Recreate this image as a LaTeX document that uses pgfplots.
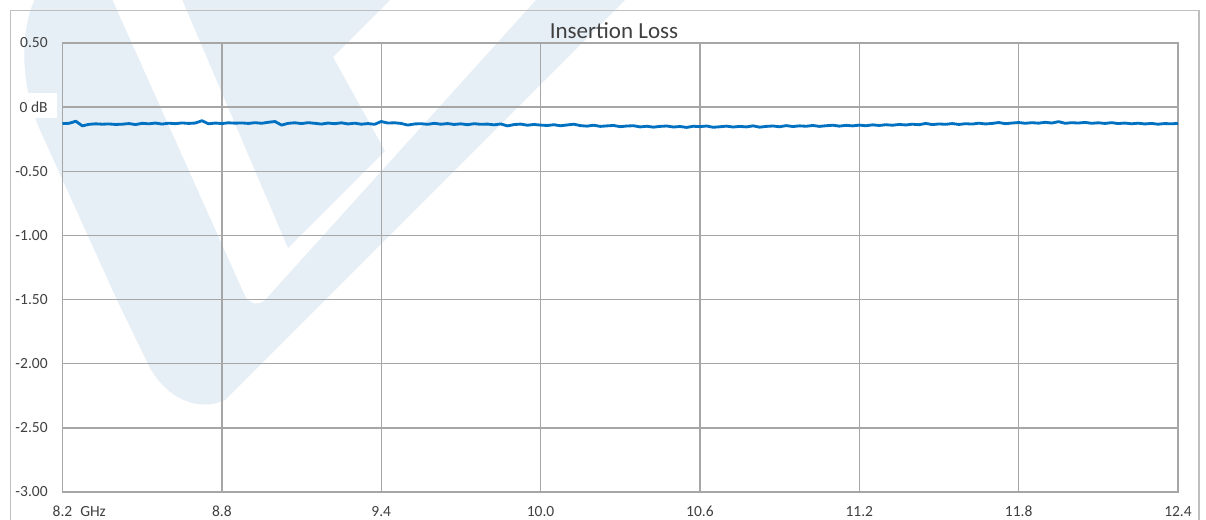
\documentclass[border=0pt]{standalone}
\usepackage{pgfplots}
\pgfplotsset{compat=1.18}
\usepackage{fontspec}
\setmainfont{Carlito}
\definecolor{wm}{RGB}{230,238,246}
\definecolor{gridc}{RGB}{166,166,166}
\definecolor{framec}{RGB}{191,191,191}
\definecolor{linec}{RGB}{0,112,192}
\definecolor{txt}{RGB}{64,64,64}

\pgfplotstableread{
x y
8.200 -0.128
8.225 -0.126
8.250 -0.110
8.275 -0.146
8.300 -0.134
8.325 -0.130
8.350 -0.133
8.375 -0.131
8.400 -0.135
8.425 -0.133
8.450 -0.128
8.475 -0.136
8.500 -0.126
8.525 -0.130
8.550 -0.124
8.575 -0.132
8.600 -0.125
8.625 -0.129
8.650 -0.123
8.675 -0.127
8.700 -0.124
8.725 -0.106
8.750 -0.130
8.775 -0.124
8.800 -0.128
8.825 -0.122
8.850 -0.125
8.875 -0.123
8.900 -0.127
8.925 -0.121
8.950 -0.126
8.975 -0.118
9.000 -0.112
9.025 -0.140
9.050 -0.126
9.075 -0.122
9.100 -0.128
9.125 -0.121
9.150 -0.126
9.175 -0.132
9.200 -0.124
9.225 -0.129
9.250 -0.122
9.275 -0.131
9.300 -0.125
9.325 -0.133
9.350 -0.128
9.375 -0.134
9.400 -0.112
9.425 -0.124
9.450 -0.122
9.475 -0.127
9.500 -0.140
9.525 -0.131
9.550 -0.129
9.575 -0.134
9.600 -0.126
9.625 -0.133
9.650 -0.128
9.675 -0.135
9.700 -0.130
9.725 -0.137
9.750 -0.129
9.775 -0.134
9.800 -0.132
9.825 -0.138
9.850 -0.131
9.875 -0.146
9.900 -0.136
9.925 -0.132
9.950 -0.141
9.975 -0.135
10.000 -0.140
10.025 -0.143
10.050 -0.137
10.075 -0.145
10.100 -0.139
10.125 -0.133
10.150 -0.144
10.175 -0.148
10.200 -0.141
10.225 -0.150
10.250 -0.146
10.275 -0.143
10.300 -0.152
10.325 -0.147
10.350 -0.145
10.375 -0.154
10.400 -0.149
10.425 -0.156
10.450 -0.150
10.475 -0.147
10.500 -0.155
10.525 -0.151
10.550 -0.158
10.575 -0.149
10.600 -0.152
10.625 -0.147
10.650 -0.157
10.675 -0.153
10.700 -0.148
10.725 -0.155
10.750 -0.150
10.775 -0.154
10.800 -0.146
10.825 -0.156
10.850 -0.150
10.875 -0.147
10.900 -0.153
10.925 -0.144
10.950 -0.151
10.975 -0.146
11.000 -0.149
11.025 -0.143
11.050 -0.150
11.075 -0.145
11.100 -0.141
11.125 -0.148
11.150 -0.142
11.175 -0.146
11.200 -0.140
11.225 -0.145
11.250 -0.138
11.275 -0.143
11.300 -0.137
11.325 -0.141
11.350 -0.135
11.375 -0.139
11.400 -0.133
11.425 -0.137
11.450 -0.127
11.475 -0.136
11.500 -0.131
11.525 -0.134
11.550 -0.128
11.575 -0.135
11.600 -0.129
11.625 -0.132
11.650 -0.125
11.675 -0.131
11.700 -0.127
11.725 -0.120
11.750 -0.129
11.775 -0.124
11.800 -0.120
11.825 -0.126
11.850 -0.121
11.875 -0.125
11.900 -0.118
11.925 -0.124
11.950 -0.113
11.975 -0.126
12.000 -0.121
12.025 -0.124
12.050 -0.119
12.075 -0.126
12.100 -0.122
12.125 -0.127
12.150 -0.121
12.175 -0.128
12.200 -0.124
12.225 -0.130
12.250 -0.125
12.275 -0.131
12.300 -0.127
12.325 -0.133
12.350 -0.128
12.375 -0.130
12.400 -0.127
}\ildata

\begin{document}
\begin{tikzpicture}
\path[use as bounding box] (0,0) rectangle (723.6pt,311.4pt);
\begin{scope}
\clip (0,0) rectangle (723.6pt,311.4pt);
\begin{scope}[x=0.6pt,y=-0.6pt,shift={(0pt,311.4pt)}]
% watermark logo (background decoration)
\fill[wm] (40,-10) .. controls (20,20) and (18,80) .. (40,130)
  -- (117,300) -- (150,368) .. controls (168,400) and (200,412) .. (225,400)
  -- (635,-10) -- (545,-10) -- (265,300)
  .. controls (258,306) and (250,304) .. (245,296)
  -- (108,-10) -- cycle;
\fill[wm] (178,-10) -- (288,248) -- (385,151) -- (333,57) -- (400,-10) -- cycle;
% white box behind 0 dB
\fill[white] (0,93) rectangle (57,118);
% outer frame
\draw[framec, line width=0.8pt] (10.7,10.7) rectangle (1199,560);
% title
\node[anchor=base, inner sep=0pt, text=txt, font=\fontsize{13.8}{16}\selectfont] at (614,38.3) {Insertion Loss};
\end{scope}
\end{scope}
\begin{axis}[
  at={(37.5pt,16.2pt)}, anchor=south west,
  scale only axis, width=669.3pt, height=269.4pt,
  xmin=8.2, xmax=12.4, ymin=-3, ymax=0.5,
  xtick={8.2,8.8,9.4,10.0,10.6,11.2,11.8,12.4},
  xticklabels={8.2\rlap{\hspace{4.8pt}GHz},8.8,9.4,10.0,10.6,11.2,11.8,12.4},
  ytick={-3,-2.5,-2,-1.5,-1,-0.5,0,0.5},
  yticklabels={-3.00,-2.50,-2.00,-1.50,-1.00,-0.50,0 dB,0.50},
  grid=major,
  major grid style={gridc, line width=0.8pt},
  axis line style={gridc, line width=0.8pt},
  major tick length=0pt, tick style={draw=none},
  ticklabel style={font=\fontsize{9.3}{11}\selectfont, text=txt},
  xticklabel style={inner sep=0pt, yshift=-8.4pt},
  yticklabel style={inner sep=0pt, xshift=-8.7pt},
]
\addplot[linec, line width=1.7pt, line join=round] table[x=x,y=y] {\ildata};
\end{axis}
\end{tikzpicture}
\end{document}
